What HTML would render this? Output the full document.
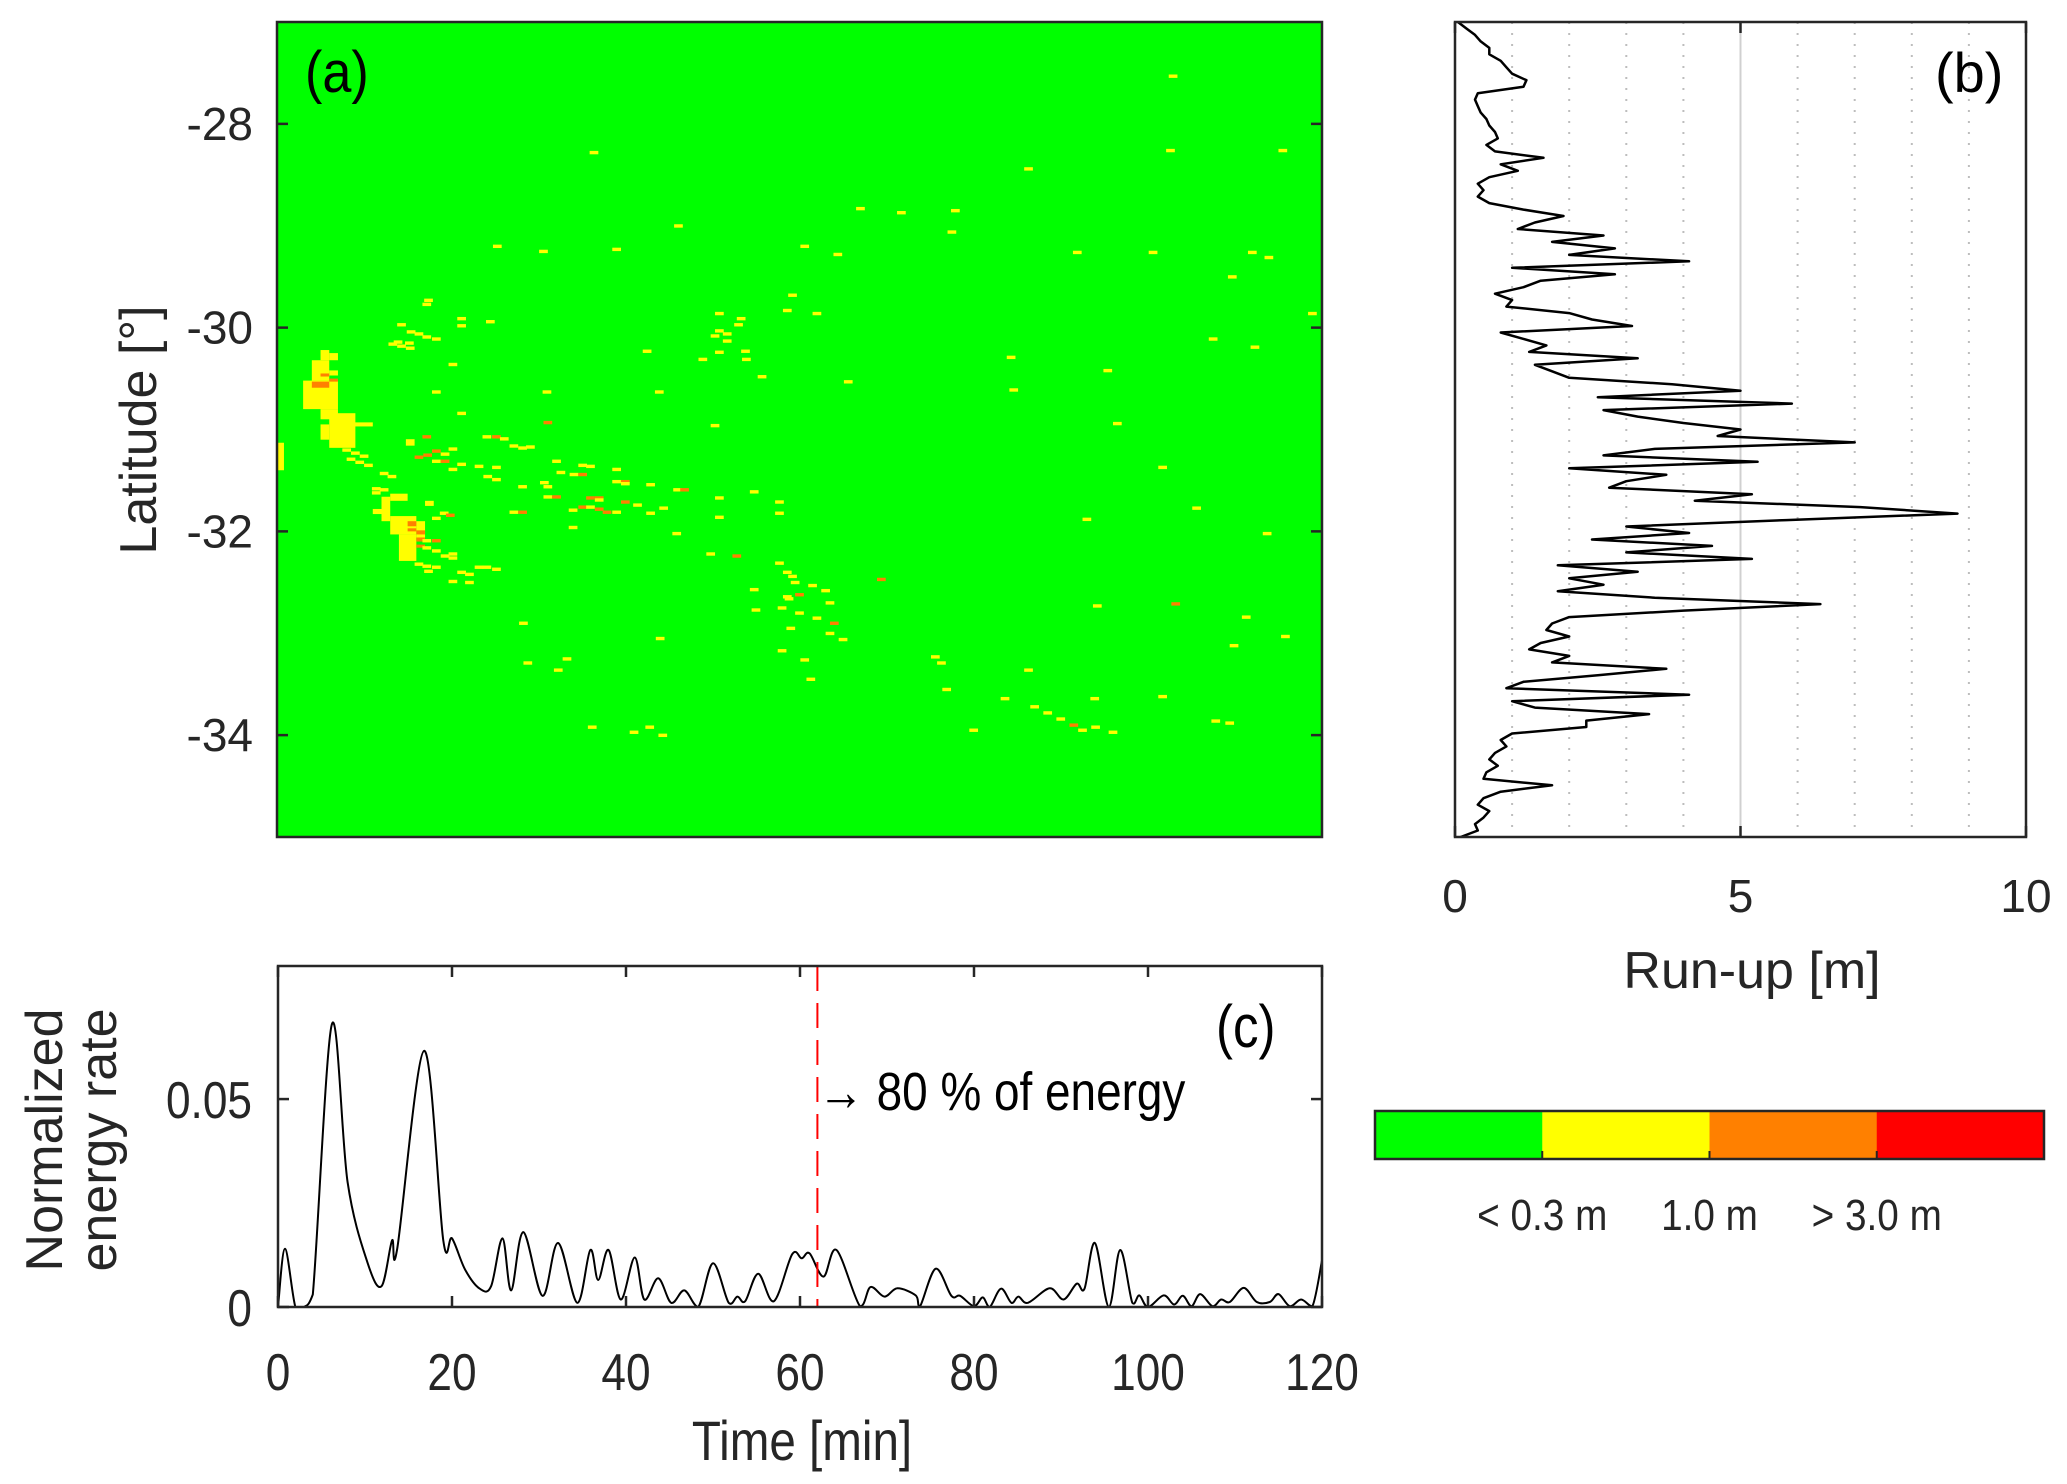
<!DOCTYPE html>
<html><head><meta charset="utf-8">
<style>
html,body{margin:0;padding:0;background:#fff;}
svg{display:block;font-family:"Liberation Sans",Arial,sans-serif;}
</style></head>
<body>
<svg id="fig" width="2067" height="1484" viewBox="0 0 2067 1484" xmlns="http://www.w3.org/2000/svg"></svg>
<script>
// ---------- Panel (a) data: blobs [t0,t1,latTop,latBottom,category] ----------
const aBlobs = [
 [5,6,-30.22,-30.32,1],[6,7,-30.25,-30.32,1],[4,6,-30.32,-30.52,1],[6,7,-30.42,-30.47,1],
 [3,7,-30.52,-30.80,1],[5,7,-30.80,-30.90,1],[6,9,-30.84,-31.18,1],[5,6,-30.95,-31.1,1],[8,11,-30.93,-30.97,1],
 [4,6,-30.53,-30.59,2],[5,6,-30.45,-30.48,2],[6,7,-30.5,-30.53,2],[0,0.8,-31.13,-31.40,1],
 [13,15,-31.63,-31.70,1],[12,13,-31.66,-31.90,1],[11,12,-31.78,-31.83,1],[13,16,-31.85,-32.03,1],[14,16,-32.03,-32.29,1],[17,18,-31.70,-31.75,1],
 [16,17,-31.90,-32.06,1],[15,16,-31.90,-31.95,2],[15,16,-31.97,-32.0,2],[16,17,-31.99,-32.03,2],[16,17,-32.06,-32.1,2],[16,17,-32.13,-32.16,2]
];
// scattered dashes: times (min), latitudes, categories (1 yellow, 2 orange, 3 red)
const dashT = [36.4,102.9,86.3,102.6,115.5,25.3,30.6,46.1,39,60.6,64.4,67,71.7,77.5,77.9,91.9,100.6,112,113.9,109.7,118.9,17.4,15.4,13.9,24.5,50.8,53,53.9,59.2,62,65.6,84.3,84.6,95.4,107.5,112.3,101.7,105.6,93,96.5,113.7,
 17.2,21.2,21.2,14.3,16.3,17.2,18.3,15.2,13.3,14.3,15.3,20.2,18.3,31,43.9,21.2,31.1,50.3,42.5,50.8,53.8,48.9,53.3,50.8,51.7,50.3,51.7,55.7,58.6,
 15.3,15.3,17.2,24.1,25.2,26.1,27.2,28.2,29.1,20.2,18.3,19.3,16.3,17.3,18.3,19.3,21.2,23.2,25.2,20.2,32.1,35.1,36,32.6,34.1,35.1,24.2,25.2,39,39,40,40,30.7,31.1,28.2,42.9,46,46.8,54.8,31.1,32.1,36,37,37,40,41.4,35.1,36,37,37.9,39,34,27.2,28.2,19.2,19.9,44.4,42.9,50.8,50.8,57.7,57.7,34,45.9,49.8,52.8,57.7,58.6,59.2,54.8,58.6,
 18.3,17.2,18.3,17.2,18.3,19.3,20.2,20.2,16.3,17.2,18.3,23.2,24.1,25.2,17.4,21.2,22.1,20.2,22.1,8,9,10,8.5,9.5,10.5,12.3,13.2,11.4,12.3,11.4,
 59.5,61.5,63,60,58.8,63.5,58,60,62,64,59,63.5,55,69.4,94.2,103.2,111.3,115.8,109.9,28.3,28.8,33.3,32.3,44,58,60.6,65,61.3,75.6,76.3,76.9,86.3,93.9,101.7,107.8,109.4,87,88.5,90,91.5,92.5,94,96,80,83.6,36.2,42.8,44.3,41];
const dashLat = [-28.28,-27.53,-28.44,-28.26,-28.26,-29.2,-29.25,-29.0,-29.23,-29.2,-29.28,-28.83,-28.87,-29.06,-28.85,-29.26,-29.26,-29.26,-29.31,-29.5,-29.86,-29.73,-30.04,-30.14,-29.94,-29.86,-29.97,-30.31,-29.68,-29.86,-30.53,-30.29,-30.61,-30.42,-30.11,-30.19,-31.37,-31.77,-31.88,-30.94,-32.02,
 -29.77,-29.91,-29.98,-29.97,-30.06,-30.09,-30.11,-30.15,-30.16,-30.18,-30.2,-30.36,-30.63,-30.63,-30.63,-30.84,-30.93,-30.96,-30.23,-30.24,-30.23,-30.31,-29.91,-30.03,-30.06,-30.08,-30.13,-30.48,-29.83,
 -31.11,-31.14,-31.07,-31.07,-31.07,-31.09,-31.16,-31.18,-31.17,-31.19,-31.21,-31.24,-31.27,-31.25,-31.31,-31.31,-31.34,-31.36,-31.37,-31.39,-31.31,-31.35,-31.36,-31.42,-31.44,-31.44,-31.46,-31.49,-31.39,-31.51,-31.51,-31.53,-31.52,-31.56,-31.56,-31.54,-31.59,-31.59,-31.61,-31.66,-31.66,-31.67,-31.67,-31.69,-31.71,-31.74,-31.76,-31.76,-31.78,-31.81,-31.81,-31.79,-31.81,-31.81,-31.82,-31.84,-31.77,-31.82,-31.67,-31.86,-31.71,-31.82,-31.96,-32.02,-32.22,-32.24,-32.31,-32.4,-32.44,-32.57,-32.64,
 -31.87,-32.09,-32.09,-32.16,-32.19,-32.24,-32.22,-32.26,-32.32,-32.34,-32.35,-32.35,-32.35,-32.37,-32.39,-32.4,-32.42,-32.49,-32.5,-31.2,-31.23,-31.26,-31.29,-31.32,-31.35,-31.43,-31.46,-31.58,-31.59,-31.62,
 -32.5,-32.53,-32.58,-32.62,-32.66,-32.7,-32.75,-32.8,-32.85,-32.9,-32.95,-33.0,-32.77,-32.47,-32.73,-32.71,-32.84,-33.03,-33.12,-32.9,-33.29,-33.25,-33.36,-33.05,-33.17,-33.26,-33.06,-33.45,-33.23,-33.29,-33.55,-33.36,-33.64,-33.62,-33.86,-33.88,-33.72,-33.78,-33.84,-33.9,-33.95,-33.92,-33.97,-33.95,-33.64,-33.92,-33.92,-34.0,-33.97];
const dashCat = [1,1,1,1,1,1,1,1,1,1,1,1,1,1,1,1,1,1,1,1,1,1,1,1,1,1,1,1,1,1,1,1,1,1,1,1,1,1,1,1,1,
 1,1,1,1,1,1,1,1,1,1,1,1,1,1,1,1,2,1,1,1,1,1,1,1,1,1,1,1,1,
 1,1,2,1,2,1,1,1,1,1,2,1,2,2,1,2,1,1,1,1,1,1,1,1,1,2,1,1,1,1,2,1,1,1,1,1,1,2,1,1,2,2,2,1,2,1,2,1,2,2,1,1,1,2,1,2,1,1,1,1,1,1,1,1,1,2,1,1,1,1,1,1,
 1,2,1,1,1,1,1,1,1,1,1,1,1,1,1,1,1,1,1,1,1,1,1,1,1,1,1,1,1,1,
 1,1,2,1,1,1,1,1,2,1,1,1,2,1,2,1,1,1,1,1,1,1,1,1,1,1,1,1,1,1,1,1,1,1,1,1,1,1,2,1,1,1,1,1,1,1,1,1,1];
// ---------- Panel (b) data: run-up (m) vs latitude ----------
const runLat = [];
const runUp = [0.05,0.2,0.35,0.45,0.6,0.6,0.8,0.9,1.0,1.25,1.2,0.4,0.35,0.4,0.45,0.55,0.6,0.7,0.75,0.55,0.7,1.55,0.8,1.1,0.6,0.4,0.5,0.4,0.6,1.2,1.9,1.4,1.1,2.6,1.7,2.8,2.0,4.1,1.0,2.8,1.5,1.2,0.7,1.0,0.9,2.0,2.4,3.1,0.8,1.2,1.6,1.3,3.2,1.4,1.7,2.0,3.8,5.0,2.5,5.9,2.6,3.2,4.0,5.0,4.6,7.0,3.5,2.6,5.3,2.0,3.7,3.0,2.7,5.2,4.2,7.1,8.8,5.8,3.0,4.1,2.4,4.5,3.0,5.2,1.8,3.2,2.0,2.6,1.8,3.5,6.4,4.0,2.0,1.7,1.6,2.0,1.5,1.3,2.0,1.7,3.7,2.5,1.2,0.9,4.1,1.0,1.4,3.4,2.3,2.3,1.0,0.8,0.9,0.7,0.6,0.75,0.55,0.5,1.7,0.8,0.5,0.4,0.6,0.5,0.35,0.4,0.1];
for (let i = 0; i < runUp.length; i++) runLat.push(-27 - 8 * i / (runUp.length - 1));
// ---------- Panel (c) data: normalized energy rate ----------
const eTime = [0,0.8,2,3,4,6.2,8,10.3,11.9,13.1,13.7,16.8,19,20,21.5,23.2,24.5,25.8,26.8,28.2,30.4,32.2,34.4,35.9,36.8,38,39.4,41,42.1,43.7,45.2,46.7,48.3,50,51.8,52.8,53.7,55.2,57,59.1,60.2,61.1,62.7,64.2,66.9,68.1,69.7,71.2,73.3,73.8,75.6,77.4,78.4,80,81,81.8,83.1,84.3,85.1,86.2,88.7,90.3,91.8,92.7,93.9,95.5,96.8,98.2,99,100,101.8,103,104,105,106,107.4,108.4,109.4,111,112.5,114,115,116.3,117.6,118.9,120];
const eRate = [0,0.014,0,0,0.003,0.068,0.03,0.0106,0.005,0.016,0.014,0.0616,0.016,0.0165,0.009,0.0044,0.005,0.0165,0.004,0.018,0.0027,0.0154,0.001,0.0137,0.0065,0.0137,0.0018,0.0119,0.0018,0.0069,0.001,0.004,0,0.0105,0.001,0.0025,0.0014,0.008,0.0014,0.0127,0.0117,0.0129,0.0073,0.0137,0.0002,0.0048,0.0025,0.0045,0.0028,0.0002,0.0092,0.0027,0.0027,0.0002,0.0023,0,0.0044,0.001,0.0025,0.001,0.0045,0.0018,0.0056,0.0044,0.0154,0,0.0137,0.001,0.0028,0,0.0028,0.0006,0.0027,0.0002,0.0031,0.0002,0.0018,0.0012,0.0046,0.0012,0.0012,0.0031,0.0002,0.0018,0.0002,0.0112];
const eMarkT = 62;
const latTicks = [-28,-30,-32,-34];
const runTicks = [0,5,10];
const timeTicks = [0,20,40,60,80,100,120];
const eTicks = [0,0.05];
const catColors = ['#00ff00','#ffff00','#ff8000','#ff0000'];
const cbLabels = ['< 0.3 m','1.0 m','> 3.0 m'];

// ---------- layout ----------
const NS = 'http://www.w3.org/2000/svg';
const svg = document.getElementById('fig');
function mk(tag, attrs, parent) {
  const e = document.createElementNS(NS, tag);
  for (const k in attrs) e.setAttribute(k, attrs[k]);
  (parent || svg).appendChild(e);
  return e;
}
const A = {x0:277, x1:1322, y0:22, y1:837};
const B = {x0:1455, x1:2026, y0:22, y1:837};
const C = {x0:278, x1:1322, y0:966, y1:1307};
const tx = t => A.x0 + (t / 120) * (A.x1 - A.x0);
const ly = lat => A.y0 + (-27 - lat) / 8 * (A.y1 - A.y0);
const rx = r => B.x0 + r / 10 * (B.x1 - B.x0);
const cx = t => C.x0 + t / 120 * (C.x1 - C.x0);
const cy = v => C.y1 - v / 0.082 * (C.y1 - C.y0);
const TXT = '#262626';

// ---- Panel a ----
let g = mk('g', {});


let bg = mk('rect', {x:A.x0, y:A.y0, width:A.x1-A.x0, height:A.y1-A.y0, fill:catColors[0]}, g);


aBlobs.forEach(b => {
  const r = mk('rect', {x:tx(b[0]), y:ly(b[2]), width:tx(b[1])-tx(b[0]), height:ly(b[3])-ly(b[2]), fill:catColors[b[4]]}, g);
  
  
});
for (let i = 0; i < dashT.length; i++) {
  const r = mk('rect', {x:tx(dashT[i]-0.5), y:ly(dashLat[i])-1.5, width:tx(1)-tx(0), height:3.4, fill:catColors[dashCat[i]]}, g);
  
  
}
let fr = mk('rect', {x:A.x0, y:A.y0, width:A.x1-A.x0, height:A.y1-A.y0, fill:'none', stroke:TXT, 'stroke-width':2.5});


latTicks.forEach(v => {
  const y = ly(v);
  mk('line', {x1:A.x0, x2:A.x0+11, y1:y, y2:y, stroke:TXT, 'stroke-width':2.5});
  mk('line', {x1:A.x1, x2:A.x1-11, y1:y, y2:y, stroke:TXT, 'stroke-width':2.5});
  const t = mk('text', {x:253, y:y+16, 'text-anchor':'end', 'font-size':46, fill:TXT});
  t.textContent = String(v);
  
  
});
let t1 = mk('text', {x:0, y:0, transform:'translate(156,430) rotate(-90)', 'text-anchor':'middle', 'font-size':52, fill:TXT});
t1.textContent = 'Latitude [°]';


let la = mk('text', {x:0, y:0, transform:'translate(305,92) scale(0.9,1)', 'font-size':58, fill:'#000'});
la.textContent = '(a)';



// ---- Panel b ----
for (let v = 1; v < 10; v++) {
  const ln = mk('line', {x1:rx(v), x2:rx(v), y1:B.y0, y2:B.y1, stroke: v===5?'#d0d0d0':'#bdbdbd', 'stroke-width':2, 'stroke-dasharray': v===5?'none':'2 9'});
  
  
}
let pts = runUp.map((r, i) => rx(r).toFixed(1) + ',' + ly(runLat[i]).toFixed(1)).join(' ');
let pl = mk('polyline', {points:pts, fill:'none', stroke:'#000', 'stroke-width':2.5, 'stroke-linejoin':'round'});


let fb = mk('rect', {x:B.x0, y:B.y0, width:B.x1-B.x0, height:B.y1-B.y0, fill:'none', stroke:TXT, 'stroke-width':2.5});


runTicks.forEach(v => {
  const x = rx(v);
  mk('line', {x1:x, x2:x, y1:B.y1, y2:B.y1-11, stroke:TXT, 'stroke-width':2.5});
  mk('line', {x1:x, x2:x, y1:B.y0, y2:B.y0+11, stroke:TXT, 'stroke-width':2.5});
  const t = mk('text', {x:x, y:912, 'text-anchor':'middle', 'font-size':46, fill:TXT});
  t.textContent = String(v);
  
  
});
let t2 = mk('text', {x:1752, y:988, 'text-anchor':'middle', 'font-size':52, fill:TXT});
t2.textContent = 'Run-up [m]';


let lb = mk('text', {x:1935, y:92, 'font-size':56, fill:'#000'});
lb.textContent = '(b)';



// ---- Panel c ----
function smooth(xs, ys, ymax) {
  let d = 'M' + xs[0] + ',' + ys[0];
  for (let i = 0; i < xs.length - 1; i++) {
    const x0 = xs[Math.max(i-1,0)], y0 = ys[Math.max(i-1,0)];
    const x1 = xs[i], y1 = ys[i], x2 = xs[i+1], y2 = ys[i+1];
    const x3 = xs[Math.min(i+2,xs.length-1)], y3 = ys[Math.min(i+2,xs.length-1)];
    const c1x = x1 + (x2-x0)/6, c1y = Math.min(ymax, y1 + (y2-y0)/6);
    const c2x = x2 - (x3-x1)/6, c2y = Math.min(ymax, y2 - (y3-y1)/6);
    d += ' C' + c1x.toFixed(1)+','+c1y.toFixed(1)+' '+c2x.toFixed(1)+','+c2y.toFixed(1)+' '+x2.toFixed(1)+','+y2.toFixed(1);
  }
  return d;
}
let ep = mk('path', {d:smooth(eTime.map(cx), eRate.map(cy), C.y1), fill:'none', stroke:'#000', 'stroke-width':2});


let ml = mk('line', {x1:cx(eMarkT), x2:cx(eMarkT), y1:C.y0, y2:C.y1, stroke:'#ff0000', 'stroke-width':2, 'stroke-dasharray':'25 12'});


let fc = mk('rect', {x:C.x0, y:C.y0, width:C.x1-C.x0, height:C.y1-C.y0, fill:'none', stroke:TXT, 'stroke-width':2.5});


timeTicks.forEach(v => {
  const x = cx(v);
  mk('line', {x1:x, x2:x, y1:C.y1, y2:C.y1-11, stroke:TXT, 'stroke-width':2.5});
  mk('line', {x1:x, x2:x, y1:C.y0, y2:C.y0+11, stroke:TXT, 'stroke-width':2.5});
  const t = mk('text', {x:0, y:0, transform:'translate('+x+',1390) scale(0.85,1)', 'text-anchor':'middle', 'font-size':52, fill:TXT});
  t.textContent = String(v);
  
  
});
eTicks.forEach(v => {
  const y = cy(v);
  mk('line', {x1:C.x0, x2:C.x0+11, y1:y, y2:y, stroke:TXT, 'stroke-width':2.5});
  mk('line', {x1:C.x1, x2:C.x1-11, y1:y, y2:y, stroke:TXT, 'stroke-width':2.5});
  const t = mk('text', {x:0, y:0, transform:'translate(252,'+(y+19)+') scale(0.85,1)', 'text-anchor':'end', 'font-size':52, fill:TXT});
  t.textContent = String(v);
  
  
});
let t3 = mk('text', {x:0, y:0, transform:'translate(802,1460) scale(0.85,1)', 'text-anchor':'middle', 'font-size':56, fill:TXT});
t3.textContent = 'Time [min]';


let t4 = mk('text', {x:0, y:0, transform:'translate(62,1140) rotate(-90)', 'text-anchor':'middle', 'font-size':52, fill:TXT});
t4.textContent = 'Normalized';


let t5 = mk('text', {x:0, y:0, transform:'translate(116,1140) rotate(-90)', 'text-anchor':'middle', 'font-size':52, fill:TXT});
t5.textContent = 'energy rate';


let an = mk('text', {x:0, y:0, transform:'translate(818,1110) scale(0.85,1)', 'font-size':54, fill:'#000'});
an.textContent = '\u2192 80 % of energy';


let lc = mk('text', {x:0, y:0, transform:'translate(1216,1047) scale(0.85,1)', 'font-size':60, fill:'#000'});
lc.textContent = '(c)';



// ---- Colorbar ----
const CB = {x0:1375, x1:2044, y0:1111, y1:1159};
const cw = (CB.x1 - CB.x0) / catColors.length;
catColors.forEach((c, i) => {
  const r = mk('rect', {x:CB.x0 + i*cw, y:CB.y0, width:cw+0.5, height:CB.y1-CB.y0, fill:c});
  
  
});
let cbf = mk('rect', {x:CB.x0, y:CB.y0, width:CB.x1-CB.x0, height:CB.y1-CB.y0, fill:'none', stroke:TXT, 'stroke-width':2.5});


cbLabels.forEach((s, i) => {
  const x = CB.x0 + (i+1)*cw;
  mk('line', {x1:x, x2:x, y1:CB.y1, y2:CB.y1-8, stroke:TXT, 'stroke-width':2});
  const t = mk('text', {x:0, y:0, transform:'translate('+x+',1230) scale(0.88,1)', 'text-anchor':'middle', 'font-size':44, fill:TXT});
  t.textContent = s;
  
  
});
</script>
</body></html>
